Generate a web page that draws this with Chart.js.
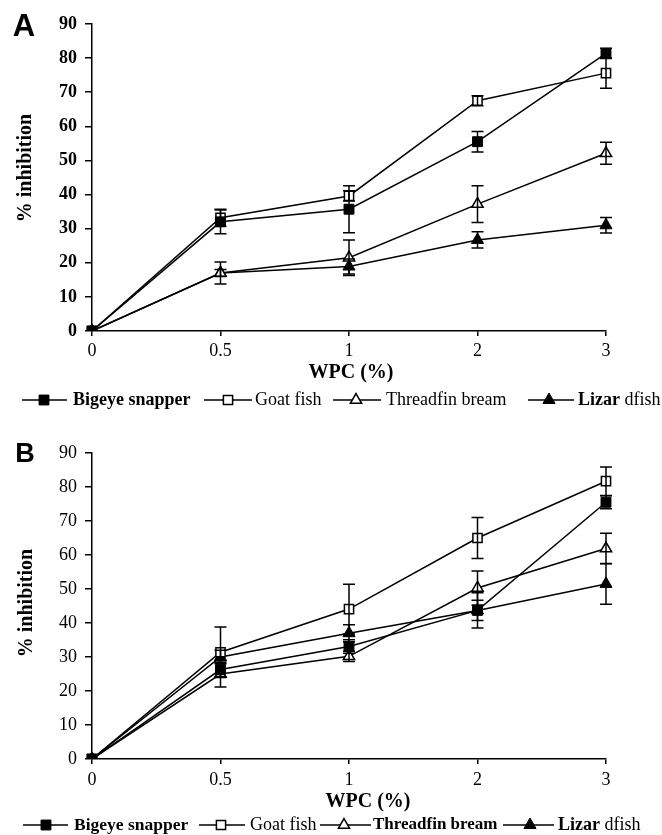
<!DOCTYPE html>
<html><head><meta charset="utf-8">
<script src="https://cdn.jsdelivr.net/npm/chart.js@4"></script>
<style>
html,body{margin:0;padding:0;background:#fff;}
#wrap{position:relative;width:662px;height:835px;overflow:hidden;background:#fff;}
.pane{position:absolute;left:0;width:662px;}
</style></head><body>
<div id="wrap">
<div class="pane" style="top:0;height:415px"><canvas id="cA" width="662" height="415"></canvas></div>
<div class="pane" style="top:415px;height:420px"><canvas id="cB" width="662" height="420"></canvas></div>
</div>
<script>
// ---------- DATA ----------
const categories = ['0', '0.5', '1', '2', '3'];
const seriesNames = ['Bigeye snapper', 'Goat fish', 'Threadfin bream', 'Lizar dfish'];
const yMin = 0, yMax = 90, yStep = 10;
const xTitleText = 'WPC (%)';
const yTitleText = '% inhibition';

// Panel A
const aBigeye    = [0, 32.0, 35.7, 55.5, 81.4];
const aBigeyeErr = [0, 3.5, 6.9, 3.0, 1.5];
const aGoat      = [0, 33.2, 39.6, 67.5, 75.6];
const aGoatErr   = [0, 2.5, 1.5, 1.5, 4.4];
const aThread    = [0, 17.0, 21.5, 37.2, 52.1];
const aThreadErr = [0, 3.2, 5.2, 5.4, 3.2];
const aLizard    = [0, 17.0, 18.9, 26.7, 31.0];
const aLizardErr = [0, 1.0, 2.2, 2.4, 2.3];

// Panel B
const bBigeye    = [0, 26.3, 33.1, 43.7, 75.5];
const bBigeyeErr = [0, 2.0, 2.0, 5.2, 1.9];
const bGoat      = [0, 31.4, 44.1, 65.0, 81.7];
const bGoatErr   = [0, 7.4, 7.3, 6.0, 4.2];
const bThread    = [0, 25.0, 30.2, 50.3, 61.9];
const bThreadErr = [0, 3.8, 1.5, 5.0, 4.5];
const bLizard    = [0, 30.0, 37.0, 43.7, 51.5];
const bLizardErr = [0, 2.0, 2.5, 3.0, 6.0];

// ---------- STYLE ----------
const SERIF = "'Liberation Serif', 'Times New Roman', serif";
const styles = [
  {pointStyle: 'rect',     radius: 7,   fill: '#000', border: '#000', bw: 1},
  {pointStyle: 'rect',     radius: 6.5, fill: '#fff', border: '#000', bw: 1.5},
  {pointStyle: 'triangle', radius: 6.5, fill: '#fff', border: '#000', bw: 1.5},
  {pointStyle: 'triangle', radius: 7,   fill: '#000', border: '#000', bw: 1}
];

function drawMarker(ctx, st, x, y) {
  const r = st.radius;
  ctx.beginPath();
  if (st.pointStyle === 'rect') {
    const s = r * Math.SQRT1_2;
    ctx.rect(x - s, y - s, 2 * s, 2 * s);
  } else {
    ctx.moveTo(x, y - r);
    ctx.lineTo(x + r * Math.sin(2 * Math.PI / 3), y - r * Math.cos(2 * Math.PI / 3));
    ctx.lineTo(x + r * Math.sin(4 * Math.PI / 3), y - r * Math.cos(4 * Math.PI / 3));
    ctx.closePath();
  }
  ctx.fillStyle = st.fill; ctx.fill();
  ctx.lineWidth = st.bw; ctx.strokeStyle = st.border; ctx.stroke();
}

const errBarPlugin = {
  id: 'errBars',
  afterDatasetsDraw(chart) {
    const ctx = chart.ctx, ys = chart.scales.y;
    ctx.save();
    ctx.strokeStyle = '#000'; ctx.lineWidth = 1.5;
    chart.data.datasets.forEach((ds, di) => {
      if (!ds.errors) return;
      const meta = chart.getDatasetMeta(di);
      meta.data.forEach((pt, i) => {
        const e = ds.errors[i];
        if (!e) return;
        const v = ds.data[i];
        const yt = ys.getPixelForValue(v + e), yb = ys.getPixelForValue(v - e);
        const x = pt.x, c = 6;
        ctx.beginPath();
        ctx.moveTo(x, yt); ctx.lineTo(x, yb);
        ctx.moveTo(x - c, yt); ctx.lineTo(x + c, yt);
        ctx.moveTo(x - c, yb); ctx.lineTo(x + c, yb);
        ctx.stroke();
      });
    });
    ctx.restore();
  }
};

const decorPlugin = {
  id: 'decor',
  afterDraw(chart, args, opts) {
    const ctx = chart.ctx;
    ctx.save();
    ctx.fillStyle = '#000';
    // panel label
    ctx.font = `bold ${opts.label.size}px 'Liberation Sans', Arial, sans-serif`;
    ctx.textAlign = 'center'; ctx.textBaseline = 'middle';
    ctx.fillText(opts.label.text, opts.label.x, opts.label.y);
    // x title
    ctx.font = `bold 20px ${SERIF}`;
    ctx.fillText(xTitleText, opts.xTitle.x, opts.xTitle.y);
    // y title
    ctx.save();
    ctx.translate(opts.yTitle.x, opts.yTitle.y);
    ctx.rotate(-Math.PI / 2);
    ctx.fillText(yTitleText, 0, 0);
    ctx.restore();
    // legend
    const ly = opts.legend.y;
    opts.legend.items.forEach((it, i) => {
      ctx.strokeStyle = '#000'; ctx.lineWidth = 1.5;
      ctx.beginPath(); ctx.moveTo(it.x1, ly); ctx.lineTo(it.x2, ly); ctx.stroke();
      drawMarker(ctx, styles[i], it.mx, ly);
      let tx = it.tx;
      ctx.fillStyle = '#000'; ctx.textAlign = 'left'; ctx.textBaseline = 'middle';
      it.segs.forEach(sg => {
        ctx.font = `${sg[1] ? 'bold ' : ''}${sg[2] || 18}px ${SERIF}`;
        ctx.fillText(sg[0], tx, ly);
        tx += ctx.measureText(sg[0]).width;
      });
    });
    ctx.restore();
  }
};

function makePanel(id, h, top, xH, xPad, yBold, series, errs, decor) {
  const datasets = series.map((d, i) => ({
    label: seriesNames[i],
    data: d,
    errors: errs[i],
    borderColor: '#000',
    borderWidth: 1.5,
    fill: false,
    tension: 0,
    pointStyle: styles[i].pointStyle,
    pointRadius: styles[i].radius,
    pointBackgroundColor: styles[i].fill,
    pointBorderColor: styles[i].border,
    pointBorderWidth: styles[i].bw,
    pointHoverRadius: styles[i].radius
  }));
  return new Chart(document.getElementById(id), {
    type: 'line',
    data: {labels: categories, datasets},
    options: {
      responsive: false, animation: false, devicePixelRatio: 1,
      layout: {padding: {top: top, right: 56, left: 0, bottom: 0}},
      plugins: {legend: {display: false}, tooltip: {enabled: false}, decor: decor},
      events: [],
      scales: {
        x: {
          type: 'category', offset: false,
          afterFit: s => { s.height = xH; },
          grid: {display: true, drawOnChartArea: false, drawTicks: true, tickLength: 5, color: '#000', lineWidth: 1.5},
          border: {display: true, color: '#000', width: 1.5},
          ticks: {color: '#000', padding: xPad, autoSkip: false, maxRotation: 0,
                  font: {family: SERIF, size: 18}},
          title: {display: false}
        },
        y: {
          min: yMin, max: yMax,
          afterFit: s => { s.width = 92; },
          grid: {display: true, drawOnChartArea: false, drawTicks: true, tickLength: 7, color: '#000', lineWidth: 1.5},
          border: {display: true, color: '#000', width: 1.5},
          ticks: {stepSize: yStep, color: '#000', padding: 8,
                  font: {family: SERIF, size: 18, weight: yBold ? 'bold' : 'normal'}},
          title: {display: false}
        }
      }
    },
    plugins: [errBarPlugin, decorPlugin]
  });
}

makePanel('cA', 415, 24, 84, 4, true,
  [aBigeye, aGoat, aThread, aLizard],
  [aBigeyeErr, aGoatErr, aThreadErr, aLizardErr],
  {
    label: {text: 'A', x: 24, y: 27, size: 31},
    xTitle: {x: 351, y: 373},
    yTitle: {x: 26, y: 168},
    legend: {y: 400, items: [
      {x1: 22, x2: 67, mx: 44, tx: 73, segs: [[seriesNames[0], true]]},
      {x1: 204, x2: 252, mx: 228, tx: 255, segs: [[seriesNames[1], false]]},
      {x1: 333, x2: 381, mx: 356, tx: 386, segs: [[seriesNames[2], false]]},
      {x1: 528, x2: 574, mx: 549, tx: 578, segs: [['Lizar', true], [' dfish', false]]}
    ]}
  });

makePanel('cB', 420, 38, 76, 5.5, false,
  [bBigeye, bGoat, bThread, bLizard],
  [bBigeyeErr, bGoatErr, bThreadErr, bLizardErr],
  {
    label: {text: 'B', x: 25, y: 40, size: 27},
    xTitle: {x: 368, y: 387},
    yTitle: {x: 27, y: 188},
    legend: {y: 410, items: [
      {x1: 23, x2: 68, mx: 46, tx: 74, segs: [[seriesNames[0], true, 17.5]]},
      {x1: 199, x2: 245, mx: 221, tx: 250, segs: [[seriesNames[1], false]]},
      {x1: 320, x2: 371, mx: 344, tx: 373, segs: [[seriesNames[2], true, 17]]},
      {x1: 503, x2: 554, mx: 530, tx: 558, segs: [['Lizar', true], [' dfish', false]]}
    ]}
  });
</script>
</body></html>
